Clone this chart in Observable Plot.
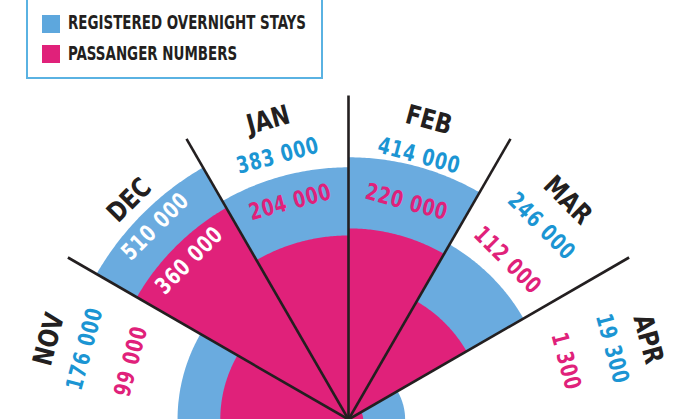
<!DOCTYPE html>
<html>
<head>
<meta charset="utf-8">
<script src="https://cdn.jsdelivr.net/npm/d3@7"></script>
<script src="https://cdn.jsdelivr.net/npm/@observablehq/plot@0.6"></script>
<style>
  html, body { margin: 0; padding: 0; background: #fff; }
  #wrap { width: 693px; position: relative; font-family: "DejaVu Sans Condensed", "DejaVu Sans", sans-serif; font-stretch: condensed; }
  #legend { position: relative; height: 80px; }
  #legend .box { position: absolute; left: 26px; top: -3px; width: 293px; height: 78px; border: 2px solid #5ab2e2; box-sizing: content-box; }
  #legend .sw { position: absolute; left: 42px; width: 18px; height: 18px; }
  #legend .lbl { position: absolute; left: 68px; font-weight: bold; font-size: 19px; line-height: 20px; color: #231f20; white-space: nowrap; transform-origin: 0 50%; transform: scaleX(0.785); }
  svg { display: block; }
</style>
</head>
<body>
<div id="wrap">
  <div id="legend">
    <div class="box"></div>
    <span class="sw" style="top:15px;background:#5da7dd"></span>
    <span class="lbl" style="top:12px">REGISTERED OVERNIGHT STAYS</span>
    <span class="sw" style="top:45px;background:#e0217a"></span>
    <span class="lbl" style="top:43px">PASSANGER NUMBERS</span>
  </div>
  <div id="chart"></div>
</div>
<script>
const months = ["NOV", "DEC", "JAN", "FEB", "MAR", "APR"];
const overnightStays = [176000, 510000, 383000, 414000, 246000, 19300];
const passengers = [99000, 360000, 204000, 220000, 112000, 1300];
const stayLabels = ["176 000", "510 000", "383 000", "414 000", "246 000", "19 300"];
const passengerLabels = ["99 000", "360 000", "204 000", "220 000", "112 000", "1 300"];

const BLUE = "#6aabdf", PINK = "#e0217a", BLUE_TEXT = "#1b95d3", INK = "#231f20";
const r = d3.scaleSqrt().domain([0, 510000]).range([0, 291]);
const rad = d => d * Math.PI / 180;
const startAngle = i => -90 + 30 * i;

function sector(i, value, series) {
  const a0 = startAngle(i), a1 = a0 + 30, R = r(value);
  const pts = [{key: series + i, x: 0, y: 0}];
  const n = 60;
  for (let k = 0; k <= n; k++) {
    const a = rad(a0 + (a1 - a0) * k / n);
    pts.push({key: series + i, x: R * Math.sin(a), y: R * Math.cos(a)});
  }
  pts.push({key: series + i, x: 0, y: 0});
  return pts;
}

const blueSectors = months.flatMap((m, i) => sector(i, overnightStays[i], "s"));
const pinkSectors = months.flatMap((m, i) => sector(i, passengers[i], "p"));

const dividers = [1, 2, 3, 4, 5].map(i => {
  const a = rad(startAngle(i));
  return {x2: 324 * Math.sin(a), y2: 324 * Math.cos(a)};
});

function labelRow(radius, texts, valueArr, color) {
  return months.map((m, i) => {
    const mid = startAngle(i) + 15;
    const a = rad(mid);
    const inside = valueArr && r(valueArr[i]) > radius + 8;
    return {
      x: radius * Math.sin(a), y: radius * Math.cos(a), rotate: mid,
      text: texts[i], color: inside ? "#ffffff" : color
    };
  });
}

const monthRow = labelRow(310, months, null, INK);
const stayRow = labelRow(273, stayLabels, overnightStays, BLUE_TEXT);
const passRow = labelRow(225, passengerLabels, passengers, PINK);

const font = "DejaVu Sans Condensed, DejaVu Sans, sans-serif";
const textOpts = {x: "x", y: "y", text: "text", rotate: "rotate", fill: "color", fontWeight: "bold", fontFamily: font, textAnchor: "middle", lineAnchor: "middle"};

const chart = Plot.plot({
  width: 693,
  height: 339,
  margin: 0,
  x: {domain: [-348, 345], axis: null},
  y: {domain: [0, 339], axis: null},
  style: {background: "#fff", overflow: "visible", fontStretch: "condensed"},
  marks: [
    Plot.line(blueSectors, {x: "x", y: "y", z: "key", fill: BLUE, stroke: "none", curve: "linear-closed"}),
    Plot.line(pinkSectors, {x: "x", y: "y", z: "key", fill: PINK, stroke: "none", curve: "linear-closed"}),
    Plot.link(dividers, {x1: 0, y1: 0, x2: "x2", y2: "y2", stroke: INK, strokeWidth: 2.6}),
    Plot.text(monthRow, {...textOpts, fontSize: 27}),
    Plot.text(stayRow, {...textOpts, fontSize: 23}),
    Plot.text(passRow, {...textOpts, fontSize: 23})
  ]
});
// horizontal squeeze of the label glyphs to imitate the narrow display face
const groups = chart.querySelectorAll("g[aria-label='text']");
const squeeze = [0.9, 0.84, 0.84];
groups.forEach((g, gi) => {
  g.querySelectorAll("text").forEach(t => {
    const tr = t.getAttribute("transform") || "";
    t.setAttribute("transform", tr + ` scale(${squeeze[gi]},1)`);
    if (gi > 0) t.style.letterSpacing = "1px";
  });
});
document.getElementById("chart").appendChild(chart);
</script>
</body>
</html>
